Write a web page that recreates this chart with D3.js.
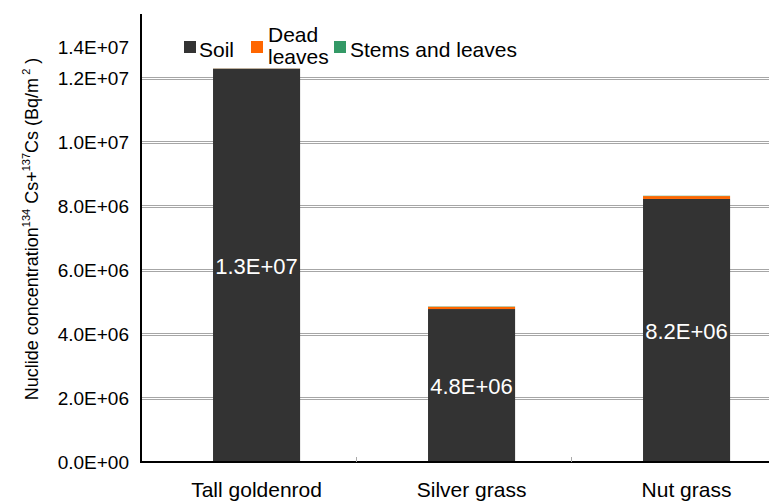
<!DOCTYPE html>
<html><head><meta charset="utf-8">
<script src="https://cdn.jsdelivr.net/npm/d3@7"></script>
<style>body{margin:0;background:#fff;}svg{display:block;font-family:"Liberation Sans",Arial,sans-serif;}</style>
</head><body>
<svg id="chart" width="769" height="502"></svg>
<script>
const categories = ["Tall goldenrod", "Silver grass", "Nut grass"];
const seriesNames = ["Soil", "Dead leaves", "Stems and leaves"];
const soil = [1.26e7, 4.78e6, 8.22e6];
const deadLeaves = [1.0e4, 7.0e4, 9.0e4];
const stemsLeaves = [5.0e3, 1.0e4, 1.0e4];
const yTicks = [0, 2e6, 4e6, 6e6, 8e6, 1.0e7, 1.2e7, 1.4e7];
const colors = ["#333333", "#ff6600", "#339966"];

const W = 769, H = 502;
const left = 141, bottom = 462, axisTop = 14;
const svg = d3.select("#chart");

const fmt = v => {
  const [m, e] = v.toExponential(1).split("e");
  const n = +e;
  return m + "E" + (n < 0 ? "-" : "+") + String(Math.abs(n)).padStart(2, "0");
};

const rows = categories.map((c, i) => ({cat: c, "Soil": soil[i], "Dead leaves": deadLeaves[i], "Stems and leaves": stemsLeaves[i]}));
const stack = d3.stack().keys(seriesNames)(rows);

const y = d3.scaleLinear().domain([0, 1.2e7, 1.4e7]).range([bottom, 78, 47]);
const x = d3.scaleBand().domain(categories).range([left, 786]).paddingInner(0.595).paddingOuter(0.2975).align(0.563);
const cell = d3.scaleBand().domain(categories).range([left, 786]);

// gridlines (double)
const grid = svg.append("g");
yTicks.filter(t => t > 0 && t < 1.4e7).forEach(t => {
  const yy = Math.round(y(t));
  [-1, 1].forEach(o => grid.append("line")
    .attr("x1", left).attr("x2", W).attr("y1", yy + o + 0.5).attr("y2", yy + o + 0.5)
    .attr("stroke", "#a6a6a6").attr("stroke-width", 1));
});

// bars
svg.append("g").selectAll("g").data(stack).join("g")
  .attr("fill", (d, i) => colors[i])
  .selectAll("rect").data(d => d).join("rect")
  .attr("x", d => x(d.data.cat))
  .attr("width", x.bandwidth())
  .attr("y", d => y(d[1]))
  .attr("height", d => y(d[0]) - y(d[1]));

// data labels (soil)
svg.append("g").selectAll("text").data(stack[0]).join("text")
  .attr("x", d => x(d.data.cat) + x.bandwidth() / 2)
  .attr("y", d => (y(d[0]) + y(d[1])) / 2 + 1)
  .attr("text-anchor", "middle").attr("dominant-baseline", "central")
  .attr("fill", "#fff").attr("font-size", 22)
  .text(d => fmt(d[1]));

// y axis labels
const ya = svg.append("g").attr("transform", `translate(${left},0)`)
  .call(d3.axisLeft(y).tickValues(yTicks).tickSize(0).tickPadding(12).tickFormat(fmt));
ya.select(".domain").remove();
ya.selectAll("text").attr("font-size", 19).attr("fill", "#000").attr("font-family", "Liberation Sans, Arial, sans-serif");

// axis lines
svg.append("line").attr("x1", left).attr("x2", left).attr("y1", axisTop).attr("y2", bottom + 1)
  .attr("stroke", "#000").attr("stroke-width", 2);
svg.append("line").attr("x1", left - 1).attr("x2", W).attr("y1", bottom).attr("y2", bottom)
  .attr("stroke", "#000").attr("stroke-width", 2);

// x ticks at category boundaries
svg.append("g").selectAll("line").data(categories.slice(1)).join("line")
  .attr("x1", d => cell(d) + 0.5).attr("x2", d => cell(d) + 0.5)
  .attr("y1", bottom - 5).attr("y2", bottom)
  .attr("stroke", "#aaa").attr("stroke-width", 1);

// x labels
svg.append("g").selectAll("text").data(categories).join("text")
  .attr("x", d => x(d) + x.bandwidth() / 2).attr("y", 497)
  .attr("text-anchor", "middle").attr("font-size", 21).attr("fill", "#000")
  .text(d => d);

// y title
const yt = svg.append("text").attr("transform", "translate(38,229) rotate(-90)")
  .attr("text-anchor", "middle").attr("font-size", 18).attr("fill", "#000");
yt.append("tspan").text("Nuclide concentration");
yt.append("tspan").attr("dy", -8).attr("font-size", 11).text("134");
yt.append("tspan").attr("dy", 8).text(" Cs+");
yt.append("tspan").attr("dy", -8).attr("font-size", 11).text("137");
yt.append("tspan").attr("dy", 8).text("Cs (Bq/m");
yt.append("tspan").attr("dy", -8).attr("font-size", 11).text(" 2");
yt.append("tspan").attr("dy", 8).text(" )");

// legend
const lg = svg.append("g");
const legendItems = [
  {name: "Soil", lines: ["Soil"], sx: 184, tx: 199},
  {name: "Dead leaves", lines: ["Dead", "leaves"], sx: 251, tx: 268},
  {name: "Stems and leaves", lines: ["Stems and leaves"], sx: 334, tx: 350}
];
legendItems.forEach((it, i) => {
  lg.append("rect").attr("x", it.sx).attr("y", 41).attr("width", 12).attr("height", 12).attr("fill", colors[i]);
  const t = lg.append("text").attr("x", it.tx).attr("font-size", 21).attr("fill", "#000");
  if (it.lines.length === 1) t.attr("y", 57).text(it.lines[0]);
  else it.lines.forEach((l, j) => t.append("tspan").attr("x", it.tx).attr("y", 42 + j * 22).text(l));
});
</script>
</body></html>
